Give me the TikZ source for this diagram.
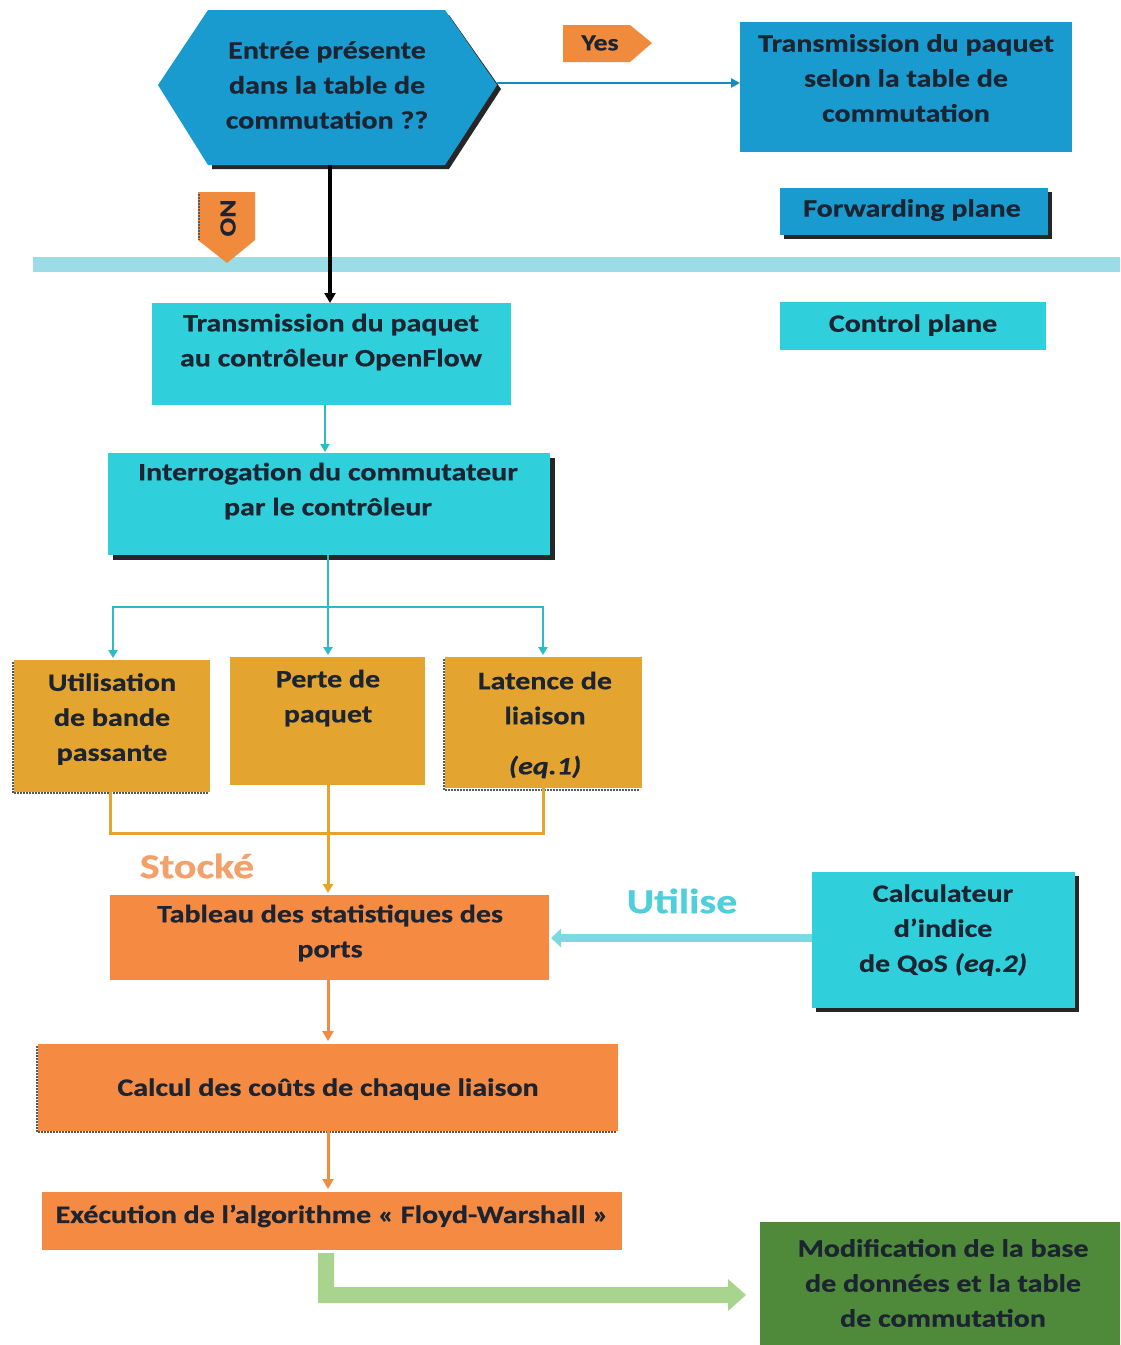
\documentclass[tikz,border=0pt]{standalone}
\usepackage{fontspec}
\setmainfont{Carlito}[FakeStretch=1.2, BoldFeatures={FakeStretch=1.2, FakeBold=0.6}, BoldItalicFeatures={FakeStretch=1.2, FakeBold=0.6}]
\usetikzlibrary{arrows.meta,shapes.symbols,shapes.geometric}
\definecolor{fblue}{HTML}{1A9BCF}
\definecolor{cyanbox}{HTML}{2FD0DC}
\definecolor{band}{HTML}{9ADDE6}
\definecolor{gold}{HTML}{E3A52F}
\definecolor{orng}{HTML}{F58A42}
\definecolor{tagor}{HTML}{F08A3C}
\definecolor{dgreen}{HTML}{4E8A3A}
\definecolor{lgreen}{HTML}{A8D48E}
\definecolor{txt}{HTML}{1C2331}
\definecolor{stk}{HTML}{F3A06A}
\definecolor{utl}{HTML}{4FCFDC}
\begin{document}
\begin{tikzpicture}[x=1pt,y=-1pt,
  every node/.style={font=\fontsize{25}{35}\selectfont\bfseries, text=txt, align=center, inner sep=0pt},
  gshd/.style={draw=gray!70!black, line width=2pt, dash pattern=on 2pt off 1pt},
  cy/.style={draw=cyanbox!90!black, line width=2.5pt, -{Triangle[length=8pt,width=9pt]}},
  gl/.style={draw=gold, line width=3pt},
  big/.style={font=\fontsize{35}{38}\selectfont\bfseries}
]
\useasboundingbox (0,0) rectangle (1120,1345);
\fill[white] (0,0) rectangle (1120,1345);

% band
\fill[band] (33,257) rectangle (1120,272);

% hexagon (decision)
\fill[black!85] (212,15) -- (449,15) -- (501,89) -- (449,169) -- (212,169) -- cycle;
\fill[fblue] (208,10) -- (445,10) -- (497,85) -- (445,165) -- (208,165) -- (158,85) -- cycle;
\node (q) at (327,85) {Entrée présente\\dans la table de\\commutation ??};
\coordinate (qR) at (497,83);
\coordinate (qB) at (330,165);

% Yes tag
\fill[tagor] (563,25) -- (630,25) -- (652,43) -- (630,62) -- (563,62) -- cycle;
\node[font=\fontsize{23}{30}\selectfont\bfseries] (yes) at (600,43) {Yes};

% forwarding box
\fill[fblue] (740,22) rectangle (1072,152);
\node (fw) at (906,78) {Transmission du paquet\\selon la table de\\commutation};
\coordinate (fwL) at (740,83);
\draw[draw=fblue!90!black, line width=2.5pt, -{Triangle[length=9pt,width=9pt]}] (qR) -- (fwL);

% Forwarding plane
\fill[black!85] (784,192) rectangle (1052,239);
\fill[fblue] (780,188) rectangle (1048,235);
\node (fp) at (912,210) {Forwarding plane};

% Control plane
\fill[cyanbox] (780,302) rectangle (1046,350);
\node (cp) at (913,325) {Control plane};

% NO tag
\fill[tagor] (198,192) -- (255,192) -- (255,240) -- (227,263) -- (198,240) -- cycle;
\draw[gray!70!black, line width=2pt, dash pattern=on 2pt off 1pt] (199,194) -- (199,240);
\node[rotate=-90, font=\fontsize{23}{30}\selectfont\bfseries] (no) at (228,218) {NO};

% box: transmission au controleur
\fill[cyanbox] (152,303) rectangle (511,405);
\node (tc) at (331,342) {Transmission du paquet\\au contrôleur OpenFlow};
\coordinate (tcT) at (330,303);
\draw[black, line width=4pt, -{Triangle[length=10pt,width=11pt]}] (qB) -- (tcT);

% interrogation
\fill[black!85] (113,458) rectangle (555,560);
\fill[cyanbox] (108,453) rectangle (550,555);
\node (ic) at (328,491) {Interrogation du commutateur\\par le contrôleur};
\draw[cy] (325,405) -- (325,452);

% gold boxes
\draw[gshd] (13,662) -- (13,793) -- (208,793);
\fill[gold] (14,660) rectangle (210,792);
\node (b1) at (112,719) {Utilisation\\de bande\\passante};
\fill[gold] (230,657) rectangle (425,785);
\node (b2) at (328,698) {Perte de\\paquet};
\draw[gshd] (444,659) -- (444,790) -- (640,790);
\fill[gold] (445,657) rectangle (642,788);
\node (b3) at (545,698) {Latence de\\liaison};
\node[font=\fontsize{25}{35}\selectfont\bfseries\itshape] (eq1) at (545,767) {(eq.1)};

% cyan distribution
\draw[draw=cyanbox!90!black, line width=2.5pt] (328,555) -- (328,607);
\draw[cy] (328,607) -- (328,655);
\draw[cy] (328,607) -- (113,607) -- (113,658);
\draw[cy] (328,607) -- (543,607) -- (543,655);

% gold merge
\draw[gl] (110,792) -- (110,833) -- (543,833) -- (543,788);
\draw[draw=gold, line width=3pt, -{Triangle[length=9pt,width=10pt]}] (328,785) -- (328,893);
\node[text=stk, big] (st) at (197,866) {Stocké};

% tableau
\fill[orng] (110,895) rectangle (549,980);
\node (tab) at (330,933) {Tableau des statistiques des\\ports};

% QoS calculator
\fill[black!85] (816,876) rectangle (1079,1012);
\fill[cyanbox] (812,872) rectangle (1075,1008);
\node (qos) at (943,930) {Calculateur\\d’indice\\de QoS \textit{(eq.2)}};
\node[text=utl, big] (ut) at (682,901) {Utilise};
\draw[draw=band!70!cyanbox, line width=8pt, -{Triangle[length=10pt,width=18pt]}] (812,938) -- (551,938);

% calcul des couts
\draw[orng, line width=3pt, -{Triangle[length=10pt,width=11pt]}] (328,980) -- (328,1041);
\draw[gshd] (37,1046) -- (37,1132) -- (616,1132);
\fill[orng] (38,1044) rectangle (618,1131);
\node (cc) at (328,1089) {Calcul des coûts de chaque liaison};

% execution
\draw[orng, line width=3pt, -{Triangle[length=10pt,width=11pt]}] (328,1131) -- (328,1189);
\fill[orng] (42,1192) rectangle (622,1250);
\node (ex) at (332,1216) {Exécution de l’algorithme « Floyd-Warshall »};

% green
\fill[dgreen] (760,1222) rectangle (1120,1345);
\node (mod) at (943,1283) {Modification de la base\\de données et la table\\de commutation};
\fill[lgreen] (318,1253) -- (334,1253) -- (334,1287) -- (728,1287) -- (728,1279) -- (746,1295) -- (728,1311) -- (728,1303) -- (318,1303) -- cycle;
\end{tikzpicture}
\end{document}
